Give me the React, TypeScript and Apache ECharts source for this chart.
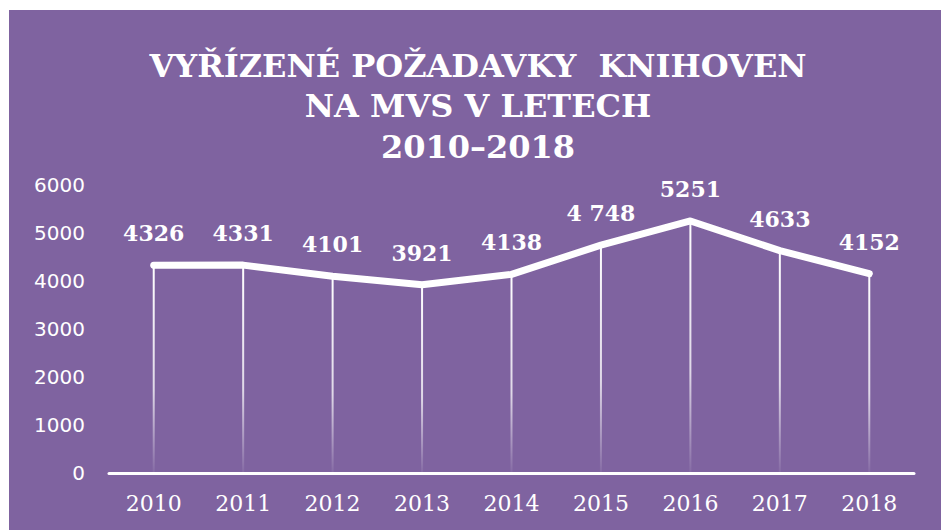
import React, { useEffect, useRef } from "react";
import * as echarts from "echarts";

const years = ["2010", "2011", "2012", "2013", "2014", "2015", "2016", "2017", "2018"];
const requests = [4326, 4331, 4101, 3921, 4138, 4748, 5251, 4633, 4152];
const valueLabels = ["4326", "4331", "4101", "3921", "4138", "4 748", "5251", "4633", "4152"];
const titleLines = ["VYŘÍZENÉ POŽADAVKY  KNIHOVEN", "NA MVS V LETECH", "2010–2018"];

const BG = "#7F63A0";
const SERIF = "'DejaVu Serif', 'Liberation Serif', serif";

export default function App() {
  const ref = useRef<HTMLDivElement>(null);
  useEffect(() => {
    if (!ref.current) return;
    const chart = echarts.init(ref.current, undefined, { renderer: "svg" });
    const titleFont = `bold 32px ${SERIF}`;
    chart.setOption({
      animation: false,
      backgroundColor: BG,
      graphic: [
        { type: "text", x: 469, y: 56, style: { text: titleLines[0], fill: "#fff", font: titleFont, textAlign: "center", textVerticalAlign: "middle" } },
        { type: "text", x: 469, y: 96, style: { text: titleLines[1], fill: "#fff", font: titleFont, textAlign: "center", textVerticalAlign: "middle" } },
        { type: "text", x: 469, y: 137, style: { text: titleLines[2], fill: "#fff", font: titleFont, textAlign: "center", textVerticalAlign: "middle" } },
      ],
      grid: { left: 100, right: 27, top: 175, bottom: 57 },
      xAxis: {
        type: "category",
        data: years,
        boundaryGap: true,
        axisLine: { lineStyle: { color: "#fff", width: 3 } },
        axisTick: { show: false },
        axisLabel: { color: "#fff", fontFamily: SERIF, fontSize: 22, margin: 19 },
      },
      yAxis: {
        type: "value",
        min: 0,
        max: 6000,
        interval: 1000,
        axisLine: { show: false },
        axisTick: { show: false },
        splitLine: { show: false },
        axisLabel: {
          color: "#fff",
          fontFamily: "'DejaVu Sans', sans-serif",
          fontSize: 20,
          margin: 24,
          formatter: (v: number) => String(v),
        },
      },
      series: [
        {
          type: "bar",
          data: requests,
          barWidth: 2,
          silent: true,
          itemStyle: {
            color: new echarts.graphic.LinearGradient(0, 0, 0, 1, [
              { offset: 0, color: "rgba(255,255,255,1)" },
              { offset: 0.6, color: "rgba(255,255,255,0.75)" },
              { offset: 1, color: "rgba(255,255,255,0.05)" },
            ]),
          },
          z: 1,
        },
        {
          type: "line",
          data: requests,
          symbol: "circle",
          symbolSize: 6,
          showSymbol: true,
          itemStyle: { color: "#fff" },
          lineStyle: { color: "#fff", width: 7, cap: "round", join: "round" },
          label: {
            show: true,
            position: "top",
            distance: 18,
            color: "#fff",
            fontFamily: SERIF,
            fontWeight: "bold",
            fontSize: 22,
            formatter: (p: any) => valueLabels[p.dataIndex],
          },
          z: 3,
        },
      ],
    });
    return () => chart.dispose();
  }, []);
  return <div ref={ref} style={{ position: "absolute", left: 9, top: 10, width: 932, height: 520 }} />;
}
